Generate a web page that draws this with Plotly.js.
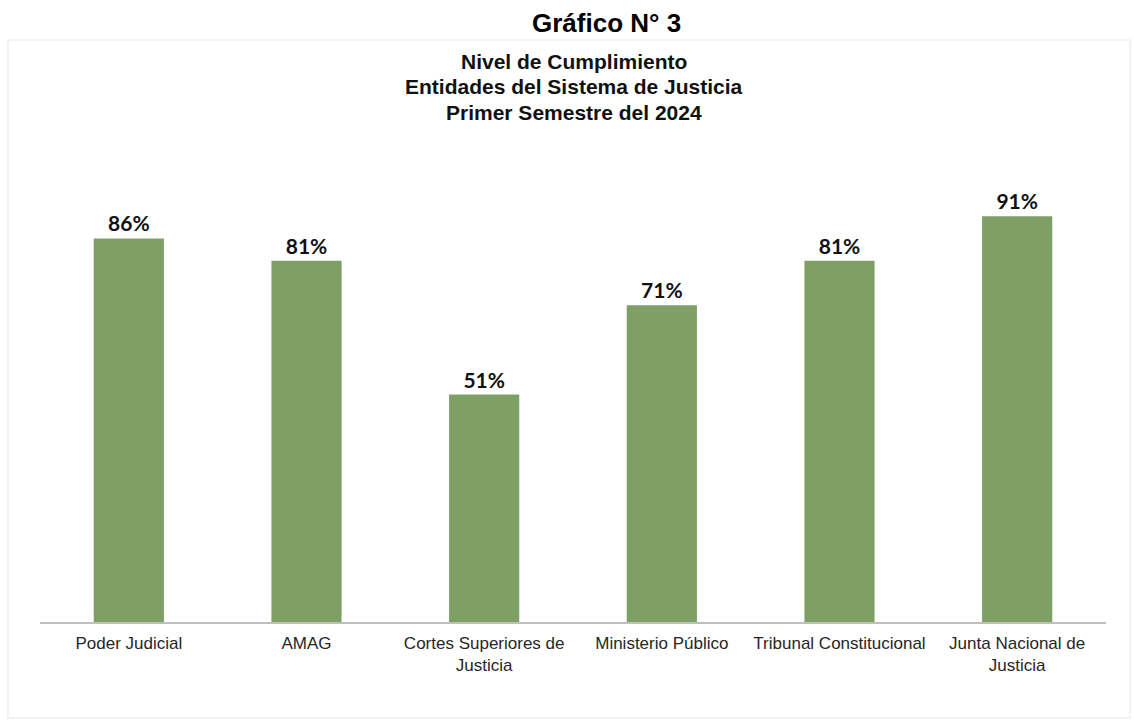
<!DOCTYPE html>
<html>
<head>
<meta charset="utf-8">
<script src="https://cdn.plot.ly/plotly-3.0.1.min.js"></script>
<style>html,body{margin:0;padding:0;background:#fff;}#chart{width:1134px;height:720px;}</style>
</head>
<body>
<div id="chart"></div>
<script>
const categories = ["Poder Judicial", "AMAG", "Cortes Superiores de<br>Justicia", "Ministerio Público", "Tribunal Constitucional", "Junta Nacional de<br>Justicia"];
const values = [86, 81, 51, 71, 81, 91];
const labels = ["86%", "81%", "51%", "71%", "81%", "91%"];

const W = 1134, H = 720;
const L = 40, R = 1106, T = 176, B = 622;
const pw = R - L, ph = B - T;
const px = x => (x - L) / pw;
const py = y => (B - y) / ph;

const trace = {
  type: 'bar',
  x: categories,
  y: values,
  text: labels,
  textposition: 'outside',
  cliponaxis: false,
  textfont: {family: 'Lato, "Open Sans", sans-serif', size: 21, color: '#111', weight: 'bold'},
  marker: {color: '#7ea064'},
  width: 0.395,
  hoverinfo: 'none'
};

const layout = {
  width: W, height: H,
  margin: {l: L, r: W - R, t: T, b: H - B},
  paper_bgcolor: '#fff',
  plot_bgcolor: '#fff',
  showlegend: false,
  xaxis: {
    showline: true, linecolor: '#bfbfbf', linewidth: 1.5,
    ticks: '', showgrid: false, zeroline: false, ticklabelstandoff: 5,
    tickfont: {family: '"Liberation Sans", Arial, sans-serif', size: 17, color: '#262626'}
  },
  yaxis: {range: [0, 100], visible: false, showgrid: false, zeroline: false},
  shapes: [{
    type: 'rect', xref: 'paper', yref: 'paper',
    x0: px(8), x1: px(1130), y0: py(718), y1: py(40),
    line: {color: '#efefef', width: 1.5}, fillcolor: 'rgba(0,0,0,0)', layer: 'below'
  }],
  annotations: [
    {text: '<b>Gráfico N° 3</b>', xref: 'paper', yref: 'paper', x: px(606), y: py(23),
     xanchor: 'center', yanchor: 'middle', showarrow: false,
     font: {family: '"Liberation Sans", Arial, sans-serif', size: 26, color: '#000'}},
    {text: '<b>Nivel de Cumplimiento</b>', xref: 'paper', yref: 'paper', x: px(574), y: py(61),
     xanchor: 'center', yanchor: 'middle', showarrow: false,
     font: {family: '"Liberation Sans", Arial, sans-serif', size: 21, color: '#111'}},
    {text: '<b>Entidades del Sistema de Justicia</b>', xref: 'paper', yref: 'paper', x: px(574), y: py(87),
     xanchor: 'center', yanchor: 'middle', showarrow: false,
     font: {family: '"Liberation Sans", Arial, sans-serif', size: 21, color: '#111'}},
    {text: '<b>Primer Semestre del 2024</b>', xref: 'paper', yref: 'paper', x: px(574), y: py(113),
     xanchor: 'center', yanchor: 'middle', showarrow: false,
     font: {family: '"Liberation Sans", Arial, sans-serif', size: 21, color: '#111'}}
  ]
};

Plotly.newPlot('chart', [trace], layout, {displayModeBar: false, staticPlot: true});
</script>
</body>
</html>
